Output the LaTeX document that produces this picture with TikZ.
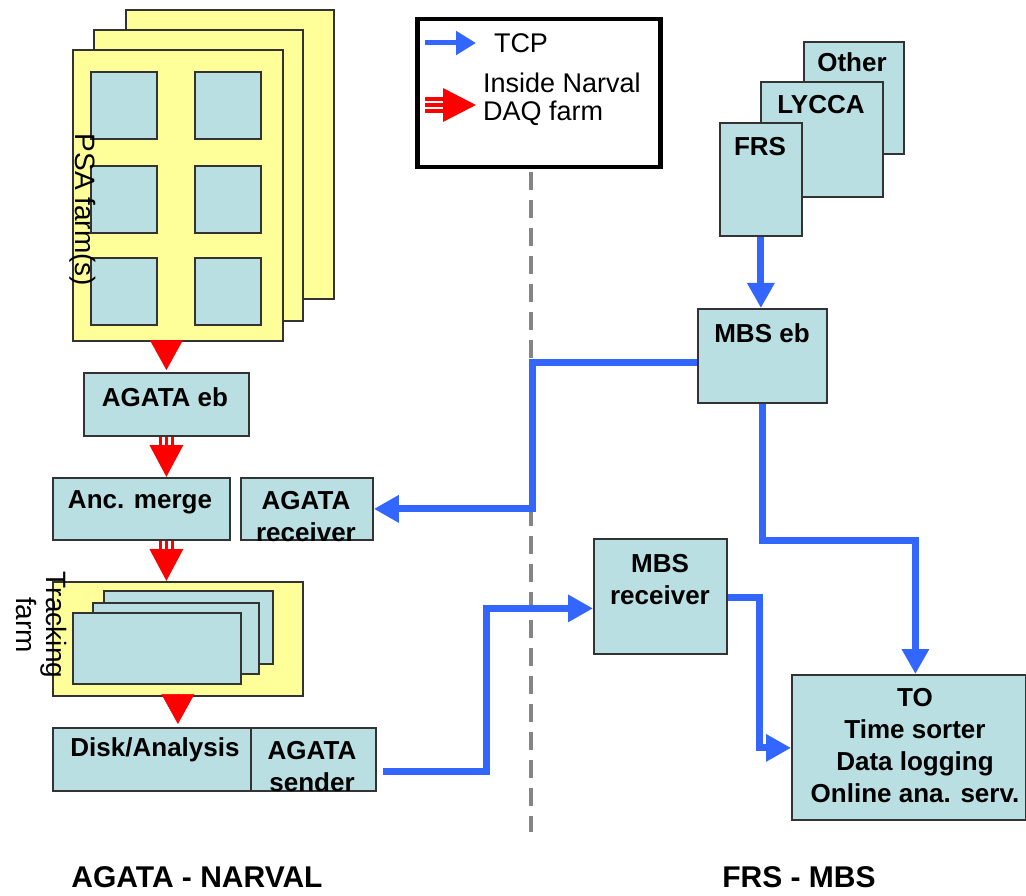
\documentclass[tikz,border=0pt]{standalone}
\usepackage{fontspec}
\setmainfont{Liberation Sans}
\usetikzlibrary{arrows.meta,calc}
\definecolor{boxblue}{HTML}{B9DFE2}
\definecolor{sheety}{HTML}{FFFF99}
\definecolor{tcpblue}{HTML}{3366FF}
\definecolor{edgegray}{HTML}{333333}
\definecolor{dashgray}{HTML}{858585}
\newcommand\boxfont{\fontsize{26pt}{32pt}\selectfont\bfseries}
\newcommand\regfont{\fontsize{27pt}{28pt}\selectfont}
\newcommand\rotfont{\fontsize{28pt}{30pt}\selectfont}
\newcommand\titfont{\fontsize{30pt}{34pt}\selectfont\bfseries}
\tikzset{
  bluebox/.style={draw=edgegray, line width=1.8pt, fill=boxblue, inner sep=0pt, anchor=north west},
  sheet/.style={draw=edgegray, line width=1.8pt, fill=sheety, inner sep=0pt, anchor=north west},
  boxtext/.style={inner sep=0pt, font=\boxfont, align=center},
  tcp/.style={draw=tcpblue, line width=7pt, line join=miter, -{Triangle[length=25pt,width=26pt]}},
  redline/.style={draw=red, line width=3.6pt},
  redarrow/.style={draw=red, fill=red, line width=3.6pt, -{Triangle[length=32pt,width=33pt]}},
  redsimple/.style={draw=red, fill=red, line width=0.5pt, -{Triangle[length=30pt,width=33pt]}},
  dashline/.style={draw=dashgray, line width=4pt, dash pattern=on 18pt off 10pt},
}
\begin{document}
\begin{tikzpicture}[x=1pt,y=-1pt]
\useasboundingbox (0,0) rectangle (1026,896);

% ---------- PSA farm stack ----------
\node[sheet, minimum width=208pt, minimum height=289pt] (psaback) at (125,9) {};
\node[sheet, minimum width=209pt, minimum height=291pt] (psamid) at (93,29) {};
\node[sheet, minimum width=210pt, minimum height=291pt] (psafront) at (72,49) {};
\foreach \r/\y in {1/71,2/165,3/257}{
  \node[bluebox, minimum width=66pt, minimum height=67pt] (psa\r a) at (90,\y) {};
  \node[bluebox, minimum width=66pt, minimum height=67pt] (psa\r b) at (194,\y) {};
}
\node[inner sep=0pt, font=\rotfont, rotate=-90] (psalabel) at (83,210) {PSA farm(s)};

% ---------- left chain ----------
\node[bluebox, minimum width=165pt, minimum height=63pt] (agataeb) at (83,372) {};
\node[boxtext] (agataebt) at (165,397) {AGATA eb};

\node[bluebox, minimum width=177pt, minimum height=62pt] (ancmerge) at (52,477) {};
\node[boxtext] (ancmerget) at (140,502) {Anc. merge};

\node[bluebox, minimum width=132pt, minimum height=62pt] (agatarecv) at (240,477) {};
\node[boxtext, anchor=north] (agatarecvt) at (306,491) {AGATA\\receiver};

\node[sheet, minimum width=250pt, minimum height=114pt] (tracking) at (52,581) {};
\node[bluebox, minimum width=169pt, minimum height=73pt] (trk3) at (103,590) {};
\node[bluebox, minimum width=166pt, minimum height=71pt] (trk2) at (92,602) {};
\node[bluebox, minimum width=168pt, minimum height=71pt] (trk1) at (72,612) {};
\node[inner sep=0pt, font=\rotfont, rotate=-90, align=center] (trklabel) at (42,625) {Tracking\\farm};

\node[bluebox, minimum width=198pt, minimum height=63pt] (disk) at (52,727) {};
\node[boxtext] (diskt) at (155,750) {Disk/Analysis};
\node[bluebox, minimum width=125pt, minimum height=63pt] (agatasend) at (250,727) {};
\node[boxtext, anchor=north] (agatasendt) at (312,741) {AGATA\\sender};

% ---------- red arrows ----------
\draw[redsimple] (agataeb.north |- psafront.south) -- ([yshift=2pt]agataeb.north);
\draw[redarrow] (agataeb.south) -- (agataeb.south |- ancmerge.north);
\draw[redline] ([xshift=-6pt]agataeb.south) -- ++(0,11);
\draw[redline] ([xshift=6pt]agataeb.south) -- ++(0,11);
\draw[redarrow] (agataeb.south |- ancmerge.south) -- (agataeb.south |- tracking.north);
\draw[redline] ($(agataeb.south |- ancmerge.south)+(-6pt,0)$) -- ++(0,10);
\draw[redline] ($(agataeb.south |- ancmerge.south)+(6pt,0)$) -- ++(0,10);
\draw[redsimple] (tracking.south) -- ([yshift=3pt]tracking.south |- disk.north);

% ---------- right side ----------
\node[bluebox, minimum width=100pt, minimum height=112pt] (other) at (803,41) {};
\node[boxtext] (othert) at (852,62) {Other};
\node[bluebox, minimum width=122pt, minimum height=115pt] (lycca) at (760,81) {};
\node[boxtext] (lyccat) at (821,105) {LYCCA};
\node[bluebox, minimum width=82pt, minimum height=113pt] (frs) at (719,122) {};
\node[boxtext] (frst) at (760,147) {FRS};

\node[bluebox, minimum width=129pt, minimum height=94pt] (mbseb) at (697,308) {};
\node[boxtext] (mbsebt) at (762,333) {MBS eb};

\node[bluebox, minimum width=133pt, minimum height=115pt] (mbsrecv) at (593,538) {};
\node[boxtext, anchor=north] (mbsrecvt) at (660,554) {MBS\\receiver};

\node[bluebox, minimum width=234pt, minimum height=145pt] (to) at (791,674) {};
\node[boxtext, anchor=north] (tot) at (915,688) {TO\\Time sorter\\Data logging\\Online ana. serv.};

% ---------- legend ----------
\node[draw=black, line width=4.5pt, fill=white, inner sep=0pt, anchor=north west,
      minimum width=243pt, minimum height=148pt] (legend) at (415,17) {};
\coordinate (lb1) at (425,43);
\coordinate (lb2) at (476,43);
\draw[draw=tcpblue, line width=5pt, -{Triangle[length=20pt,width=23pt]}] (lb1) -- (lb2);
\node[inner sep=0pt, font=\regfont] (tcpt) at (521,43) {TCP};
\coordinate (lr1) at (425,105);
\coordinate (lr2) at (476,105);
\draw[draw=red, fill=red, line width=3.6pt, -{Triangle[length=33pt,width=33pt]}] (lr1) -- (lr2);
\draw[redline] ([yshift=6pt]lr1) -- ++(20,0);
\draw[redline] ([yshift=-6pt]lr1) -- ++(20,0);
\node[inner sep=0pt, font=\regfont, align=left, anchor=north west] (legt) at (483,73) {Inside Narval\\DAQ farm};

% ---------- dashed separator ----------
\coordinate (dtop) at (531,172);
\coordinate (dbot) at (531,832);
\draw[dashline] (dtop) -- (dbot);

% ---------- TCP connectors ----------
\draw[tcp] (frs.south) -- (frs.south |- mbseb.north);
\draw[tcp] ([yshift=-7pt]mbseb.west) -- ++(-165,0) |- (agatarecv.east);
\draw[tcp] (mbseb.south) -- ++(0,137) -| ([xshift=6.5pt]to.north);
\draw[tcp] ([xshift=6pt,yshift=-12.5pt]agatasend.east) -- ++(104,0) |- ([yshift=-12pt]mbsrecv.west);
\draw[tcp] ([yshift=-1.5pt]mbsrecv.east) -- ++(32,0) |- ([yshift=-0.5pt]to.west);

% ---------- titles ----------
\node[inner sep=0pt, font=\titfont] (titleleft) at (197,877) {AGATA - NARVAL};
\node[inner sep=0pt, font=\titfont] (titleright) at (799,877) {FRS - MBS};
\end{tikzpicture}
\end{document}
